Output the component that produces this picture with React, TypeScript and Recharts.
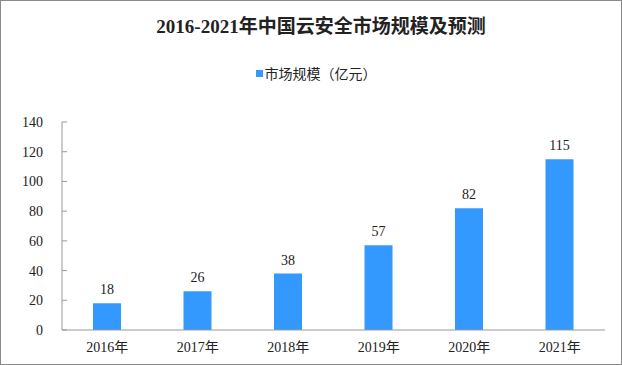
import React from "react";
import { Bar, BarChart, LabelList, Legend, XAxis, YAxis } from "recharts";

const years = ["2016年", "2017年", "2018年", "2019年", "2020年", "2021年"];
const marketSize = [18, 26, 38, 57, 82, 115];
const yTicks = [0, 20, 40, 60, 80, 100, 120, 140];

const data = years.map((year, i) => ({ year, value: marketSize[i] }));

const SERIF = '"Times New Roman", "Liberation Serif", "Noto Sans CJK SC", serif';
const SANS = '"Microsoft YaHei", "Noto Sans CJK SC", sans-serif';

const YTick = (props: any) => {
    const { x, y, payload } = props;
    const axisX = x + 19;
    return (
      <g>
          <line x1={axisX} x2={axisX + 5} y1={y} y2={y} stroke="#999"/>
          <text x={x} y={y} dy={5} textAnchor="end" fontSize={14} fontFamily={SERIF} fill="#222">
              {payload.value}
          </text>
      </g>
    );
};

const renderLegend = () => (
  <div style={{ display: "flex", justifyContent: "center", alignItems: "center", fontFamily: SANS, fontSize: 14, color: "#222", paddingLeft: 10 }}>
      <span style={{ width: 7, height: 7, background: "#3399ff", display: "inline-block", marginRight: 2 }}/>
      市场规模（亿元）
  </div>
);

export default function App() {
    return (
      <div style={{ position: "absolute", left: 0, top: 0, width: 622, height: 365, background: "#fff" }}>
          <div style={{ position: "absolute", left: 0, top: 0, width: 620, height: 363, border: "1px solid #8a8a8a", pointerEvents: "none", zIndex: 2 }}/>
          <div style={{
              position: "absolute", left: 10, top: 15, width: 622, textAlign: "center",
              fontFamily: SERIF, fontWeight: "bold", fontSize: 19, color: "#222", lineHeight: "24px"
          }}>
              2016-2021年中国云安全市场规模及预测
          </div>
          <BarChart width={622} height={365} data={data} margin={{ top: 102, right: 17, bottom: 10, left: 2 }} barSize={28}>
              <Legend content={renderLegend} verticalAlign="top" wrapperStyle={{ top: 63, left: 0, width: 622 }}/>
              <XAxis dataKey="year" stroke="#999" tickLine={false}
                     tick={{ fontSize: 14, fontFamily: SERIF, fill: "#222" }} tickMargin={6} height={25}/>
              <YAxis domain={[0, 140]} ticks={yTicks} stroke="#999" tickLine={false} tickSize={5}
                     tickMargin={14} width={60} tick={YTick}/>
              <Bar dataKey="value" fill="#3399ff" isAnimationActive={false}>
                  <LabelList dataKey="value" position="top" offset={9} fontSize={14} fontFamily={SERIF} fill="#222"/>
              </Bar>
          </BarChart>
      </div>
    );
}
